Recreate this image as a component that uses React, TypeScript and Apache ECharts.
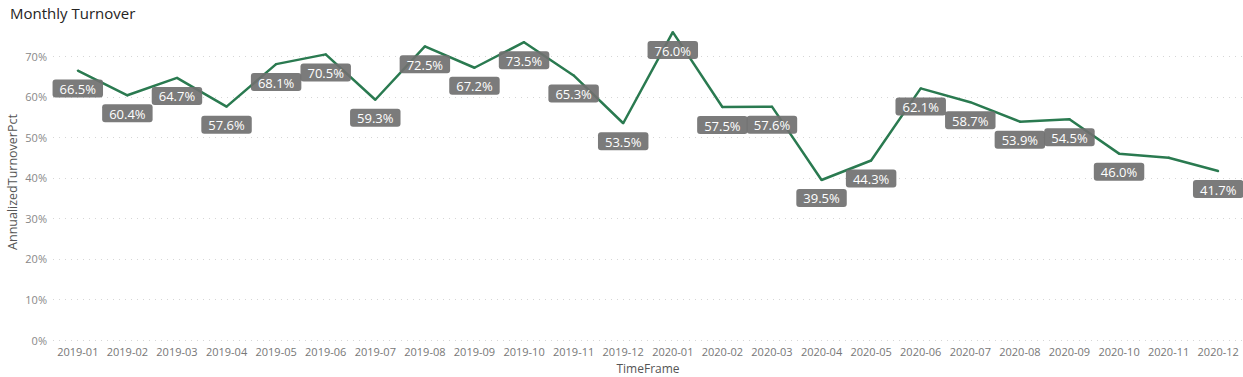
import React, { useEffect, useRef } from "react";
import * as echarts from "echarts";

const categories = [
  "2019-01", "2019-02", "2019-03", "2019-04", "2019-05", "2019-06",
  "2019-07", "2019-08", "2019-09", "2019-10", "2019-11", "2019-12",
  "2020-01", "2020-02", "2020-03", "2020-04", "2020-05", "2020-06",
  "2020-07", "2020-08", "2020-09", "2020-10", "2020-11", "2020-12",
];
const turnoverPct = [
  66.5, 60.4, 64.7, 57.6, 68.1, 70.5, 59.3, 72.5, 67.2, 73.5, 65.3, 53.5,
  76.0, 57.5, 57.6, 39.5, 44.3, 62.1, 58.7, 53.9, 54.5, 46.0, 45.0, 41.7,
];
const hiddenLabels = ["2020-11"];
const yTicks = [0, 10, 20, 30, 40, 50, 60, 70];

const FONT = "'Segoe UI', 'Open Sans', sans-serif";

export default function App() {
  const ref = useRef<HTMLDivElement>(null);
  useEffect(() => {
    document.body.style.margin = "0";
    const chart = echarts.init(ref.current!, undefined, { renderer: "svg" });
    const lastIdx = categories.length - 1;
    chart.setOption({
      animation: false,
      title: {
        text: "Monthly Turnover",
        left: 5,
        top: 0,
        textStyle: { fontFamily: FONT, fontSize: 15, fontWeight: "normal", color: "#252423" },
      },
      grid: { left: 53, right: 0, top: 24, bottom: 37, outerBoundsMode: "none", containLabel: false },
      xAxis: {
        type: "category",
        data: categories,
        boundaryGap: true,
        name: "TimeFrame",
        nameLocation: "middle",
        nameGap: 22,
        nameMoveOverlap: false,
        nameTextStyle: { fontFamily: FONT, fontSize: 12, color: "#555" },
        axisLine: { show: false },
        axisTick: { show: false },
        axisLabel: { interval: 0, fontFamily: FONT, fontSize: 11, color: "#777", margin: 6 },
      },
      yAxis: {
        type: "value",
        min: 0,
        max: 78,
        interval: 10,
        name: "AnnualizedTurnoverPct",
        nameLocation: "middle",
        nameGap: 34,
        nameMoveOverlap: false,
        nameTextStyle: { fontFamily: FONT, fontSize: 12.5, color: "#555" },
        axisLine: { show: false },
        axisTick: { show: false },
        axisLabel: {
          fontFamily: FONT,
          fontSize: 11,
          color: "#888",
          margin: 6,
          showMaxLabel: false,
          formatter: (v: number) => (yTicks.includes(v) ? v + "%" : ""),
        },
        splitLine: {
          show: true,
          showMaxLine: false,
          lineStyle: { color: "#d6d6d6", type: [1, 5], width: 1 },
        },
      },
      series: [
        {
          type: "line",
          data: turnoverPct.map((v, i) => {
            const item: any = { value: v };
            if (hiddenLabels.includes(categories[i])) item.label = { show: false };
            else if (i === 0) item.label = { offset: [4, 0] };
            else if (i === lastIdx) item.label = { offset: [-4, 0] };
            return item;
          }),
          showSymbol: true,
          symbol: "circle",
          symbolSize: 2,
          itemStyle: { color: "#2a7a50" },
          lineStyle: { color: "#2a7a50", width: 2.5 },
          label: {
            show: true,
            position: "bottom",
            distance: 8,
            formatter: (p: any) => Number(p.value).toFixed(1) + "%",
            color: "#ffffff",
            fontFamily: FONT,
            fontSize: 13,
            backgroundColor: "rgba(112,112,112,0.92)",
            borderRadius: 3,
            padding: [3, 7, 2, 7],
          },
          labelLayout: { hideOverlap: false },
        },
      ],
    });
    return () => chart.dispose();
  }, []);
  return <div ref={ref} style={{ width: 1243, height: 377 }} />;
}
